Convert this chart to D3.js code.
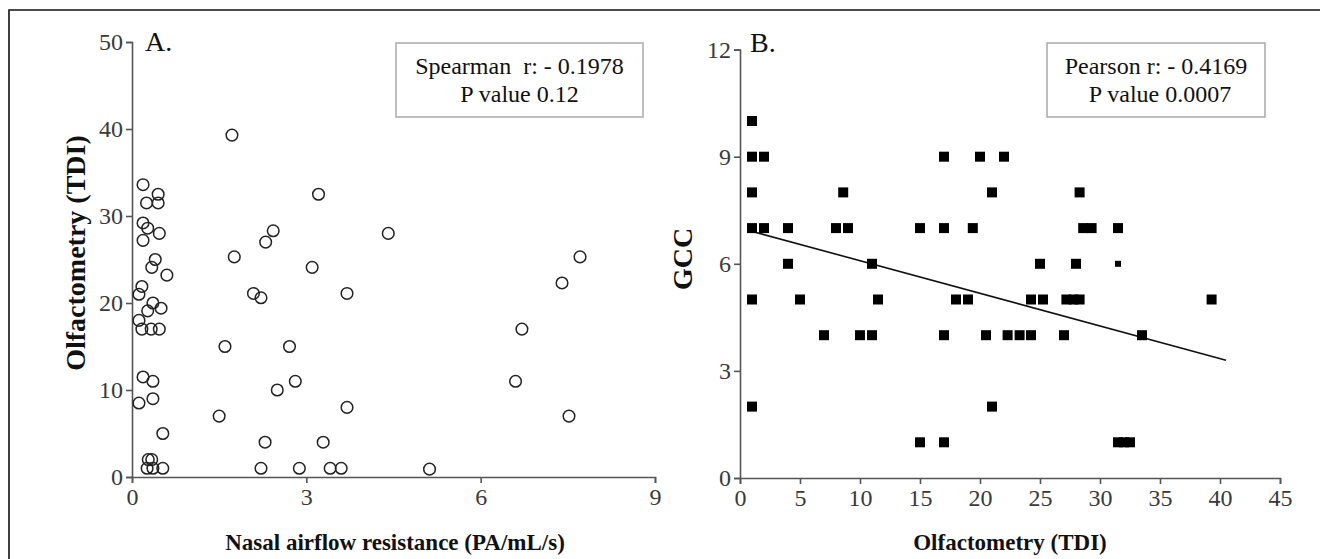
<!DOCTYPE html>
<html>
<head>
<meta charset="utf-8">
<script src="https://cdn.jsdelivr.net/npm/d3@7"></script>
<style>
  body { margin: 0; background: #fff; }
  svg { display: block; font-family: "Liberation Serif", "Times New Roman", serif; }
  .axis path, .axis line { stroke: #555; stroke-width: 1.6; }
  .axis text { font-size: 24px; font-family: "Liberation Serif", serif; fill: #3a3a3a; }
</style>
</head>
<body>
<svg id="chart"></svg>
<script>
// Panel A — nasal airflow resistance vs olfactometry (TDI)
const airflow = [1.72, 0.19, 0.45, 0.25, 0.45, 0.19, 0.27, 0.47, 0.19, 0.40, 0.34, 0.60,
  1.76, 3.21, 2.43, 2.30, 3.10, 4.41, 7.71, 7.40, 6.71, 6.60, 7.52, 5.12,
  0.17, 0.12, 2.09, 2.22, 3.70, 0.36, 0.50, 0.27, 0.12, 0.17, 0.33, 0.47,
  1.60, 2.71, 0.19, 0.36, 2.81, 2.50, 0.12, 0.36, 3.70, 1.50, 0.53, 2.29,
  3.29, 0.28, 0.34, 0.26, 0.36, 0.53, 2.22, 2.88, 3.41, 3.60];
const tdiA = [39.3, 33.6, 32.5, 31.5, 31.5, 29.2, 28.6, 28.0, 27.2, 25.0, 24.1, 23.2,
  25.3, 32.5, 28.3, 27.0, 24.1, 28.0, 25.3, 22.3, 17.0, 11.0, 7.0, 0.9,
  21.9, 21.0, 21.1, 20.6, 21.1, 20.0, 19.4, 19.1, 18.0, 17.0, 17.0, 17.0,
  15.0, 15.0, 11.5, 11.0, 11.0, 10.0, 8.5, 9.0, 8.0, 7.0, 5.0, 4.0,
  4.0, 2.0, 2.0, 1.0, 1.0, 1.0, 1.0, 1.0, 1.0, 1.0];

// Panel B — olfactometry (TDI) vs GCC
const tdiB = [1, 1, 2, 17, 20, 22,
  1, 8.6, 21, 28.3,
  1, 2, 4, 8, 9, 15, 17, 19.4, 28.6, 29.3, 31.5,
  4, 11, 25, 28, 31.5,
  1, 5, 11.5, 18, 19, 24.25, 25.25, 27.2, 27.8, 28.3, 39.3,
  7, 10, 11, 17, 20.5, 22.3, 23.3, 24.25, 27, 33.5,
  1, 21,
  15, 17, 31.5, 32, 32.5];
const gcc = [10, 9, 9, 9, 9, 9,
  8, 8, 8, 8,
  7, 7, 7, 7, 7, 7, 7, 7, 7, 7, 7,
  6, 6, 6, 6, 6,
  5, 5, 5, 5, 5, 5, 5, 5, 5, 5, 5,
  4, 4, 4, 4, 4, 4, 4, 4, 4, 4,
  2, 2,
  1, 1, 1, 1, 1];
const smallMarker = [25];   // index of the half-size square at (31.5, 6)

// fitted line: [x, y] at each end
const fitX = [1.1, 40.5];
const fitY = [6.9, 3.3];

const ticksA_x = [0, 3, 6, 9];
const ticksA_y = [0, 10, 20, 30, 40, 50];
const ticksB_x = [0, 5, 10, 15, 20, 25, 30, 35, 40, 45];
const ticksB_y = [0, 3, 6, 9, 12];

const W = 1320, H = 559;
const svg = d3.select("#chart").attr("width", W).attr("height", H);

// outer frame (top and left edges only)
svg.append("path")
  .attr("d", `M9,${H} V10 H${W}`)
  .attr("fill", "none").attr("stroke", "#111").attr("stroke-width", 1.6);

function statBox(x0, y0, w, h, lines) {
  svg.append("rect")
    .attr("x", x0).attr("y", y0).attr("width", w).attr("height", h)
    .attr("fill", "#fff").attr("stroke", "#aaa").attr("stroke-width", 1.5);
  lines.forEach((t, i) => {
    svg.append("text")
      .attr("x", x0 + w / 2 + t.dx).attr("y", y0 + 31 + i * 28)
      .attr("text-anchor", "middle")
      .attr("font-size", 24).attr("fill", "#111")
      .attr("xml:space", "preserve")
      .text(t.s);
  });
}

// ---------- Panel A ----------
const xA = d3.scaleLinear().domain([0, 9]).range([132, 655]);
const yA = d3.scaleLinear().domain([0, 50]).range([477, 42]);

svg.append("g").attr("class", "axis")
  .attr("transform", "translate(0,477)")
  .call(d3.axisBottom(xA).tickValues(ticksA_x).tickSize(6).tickPadding(5));
svg.append("g").attr("class", "axis")
  .attr("transform", "translate(132,0)")
  .call(d3.axisLeft(yA).tickValues(ticksA_y).tickSize(6).tickPadding(3));

svg.append("g").selectAll("circle")
  .data(airflow.map((v, i) => [v, tdiA[i]]))
  .join("circle")
  .attr("cx", d => xA(d[0])).attr("cy", d => yA(d[1]))
  .attr("r", 5.8)
  .attr("fill", "none").attr("stroke", "#222").attr("stroke-width", 1.5);

svg.append("text").attr("x", 145).attr("y", 51)
  .attr("font-size", 28).attr("fill", "#111").text("A.");

svg.append("text")
  .attr("transform", "translate(85,253) rotate(-90)")
  .attr("text-anchor", "middle")
  .attr("font-size", 28).attr("font-weight", "bold").attr("fill", "#111")
  .text("Olfactometry (TDI)");

svg.append("text").attr("x", 395).attr("y", 550)
  .attr("text-anchor", "middle")
  .attr("font-size", 23).attr("font-weight", "bold").attr("fill", "#111")
  .text("Nasal airflow resistance (PA/mL/s)");

statBox(396, 43, 247, 74, [
  { s: "Spearman  r: - 0.1978", dx: 0 },
  { s: "P value 0.12", dx: 0 }
]);

// ---------- Panel B ----------
const xB = d3.scaleLinear().domain([0, 45]).range([740, 1280]);
const yB = d3.scaleLinear().domain([0, 12]).range([478, 49.6]);

svg.append("g").attr("class", "axis")
  .attr("transform", "translate(0,478)")
  .call(d3.axisBottom(xB).tickValues(ticksB_x).tickSize(6).tickPadding(5));
svg.append("g").attr("class", "axis")
  .attr("transform", "translate(740,0)")
  .call(d3.axisLeft(yB).tickValues(ticksB_y).tickSize(6).tickPadding(3));

svg.append("line")
  .attr("x1", xB(fitX[0])).attr("y1", yB(fitY[0]))
  .attr("x2", xB(fitX[1])).attr("y2", yB(fitY[1]))
  .attr("stroke", "#111").attr("stroke-width", 1.6);

svg.append("g").selectAll("rect")
  .data(tdiB.map((v, i) => ({ x: v, y: gcc[i], s: smallMarker.includes(i) ? 6 : 10 })))
  .join("rect")
  .attr("x", d => xB(d.x) - d.s / 2).attr("y", d => yB(d.y) - d.s / 2)
  .attr("width", d => d.s).attr("height", d => d.s)
  .attr("fill", "#000");

svg.append("text").attr("x", 750).attr("y", 52)
  .attr("font-size", 28).attr("fill", "#111").text("B.");

svg.append("text")
  .attr("transform", "translate(692,259) rotate(-90)")
  .attr("text-anchor", "middle")
  .attr("font-size", 28).attr("font-weight", "bold").attr("fill", "#111")
  .text("GCC");

svg.append("text").attr("x", 1010).attr("y", 550)
  .attr("text-anchor", "middle")
  .attr("font-size", 23).attr("font-weight", "bold").attr("fill", "#111")
  .text("Olfactometry (TDI)");

statBox(1047, 43, 218, 74, [
  { s: "Pearson r: - 0.4169", dx: 0 },
  { s: "P value 0.0007", dx: 4 }
]);
</script>
</body>
</html>
